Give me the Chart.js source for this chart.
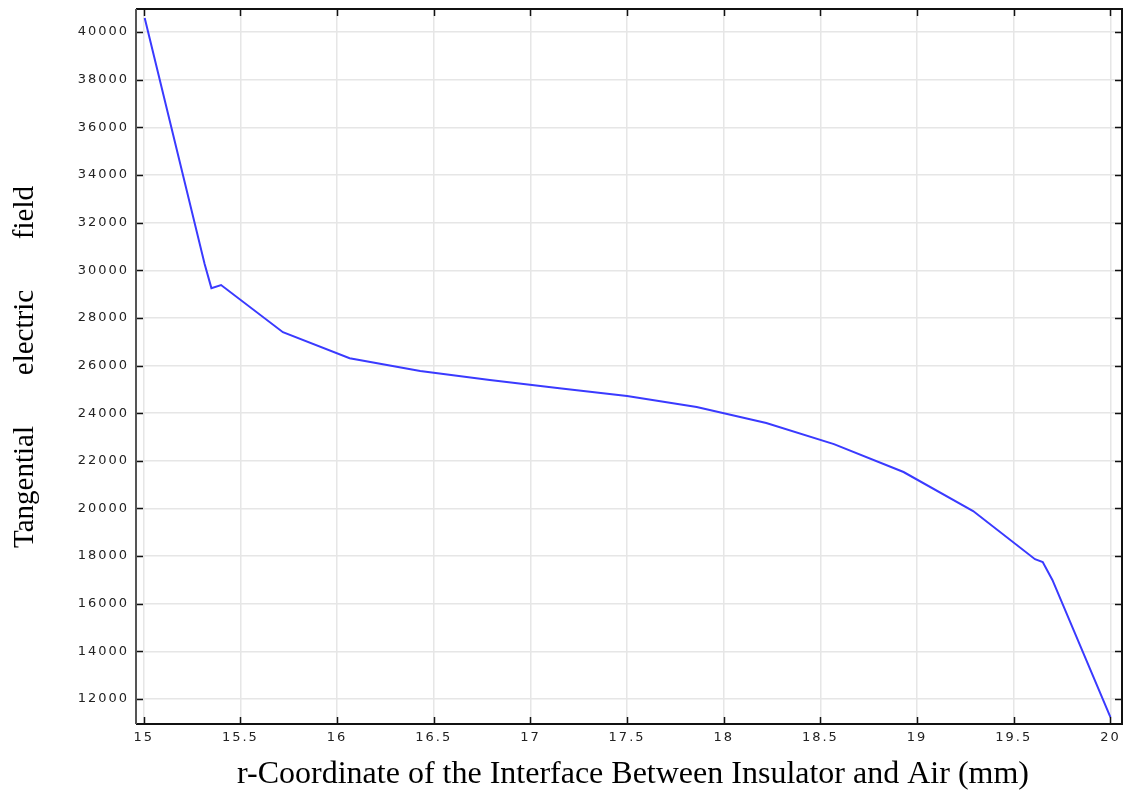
<!DOCTYPE html>
<html>
<head>
<meta charset="utf-8">
<script src="https://cdn.jsdelivr.net/npm/chart.js@4/dist/chart.umd.min.js"></script>
<style>
  html, body { margin: 0; padding: 0; background: #fff; }
  #wrap { width: 1129px; height: 790px; }
</style>
</head>
<body>
<div id="wrap"><canvas id="fieldChart" width="1129" height="790"></canvas></div>
<script>
// r-coordinate (mm) and tangential field values
const rCoord = [15.005, 15.315, 15.35, 15.40, 15.72, 16.065, 16.43, 16.79, 17.15, 17.50,
                17.86, 18.22, 18.57, 18.93, 19.29, 19.61, 19.65, 19.70, 20.0];
const eField = [40590, 30260, 29250, 29380, 27400, 26310, 25770, 25390, 25050, 24720,
                24260, 23590, 22700, 21530, 19890, 17870, 17750, 17000, 11240];

const xTicks = [15, 15.5, 16, 16.5, 17, 17.5, 18, 18.5, 19, 19.5, 20];
const yTicks = [12000, 14000, 16000, 18000, 20000, 22000, 24000, 26000,
                28000, 30000, 32000, 34000, 36000, 38000, 40000];

const xTitle = 'r-Coordinate of the Interface Between Insulator and Air (mm)';
const yTitle = 'Tangential       electric       field';

document.addEventListener('DOMContentLoaded', function () {

    // inward tick marks, frame and axis titles
    const framePlugin = {
        id: 'frame',
        beforeDraw(chart) {
            chart.ctx.letterSpacing = '2px';
        },
        afterDraw(chart) {
            const ctx = chart.ctx;
            const area = chart.chartArea;
            const xs = chart.scales.x;
            const ys = chart.scales.y;
            ctx.save();
            ctx.letterSpacing = '0px';

            ctx.strokeStyle = '#111';
            ctx.lineWidth = 1.5;
            xs.ticks.forEach(t => {
                const px = Math.round(xs.getPixelForValue(t.value)) + 0.5;
                ctx.beginPath();
                ctx.moveTo(px, area.top); ctx.lineTo(px, area.top + 7);
                ctx.moveTo(px, area.bottom); ctx.lineTo(px, area.bottom - 7);
                ctx.stroke();
            });
            ys.ticks.forEach(t => {
                const py = Math.round(ys.getPixelForValue(t.value)) + 0.5;
                ctx.beginPath();
                ctx.moveTo(area.left, py); ctx.lineTo(area.left + 7, py);
                ctx.moveTo(area.right, py); ctx.lineTo(area.right - 7, py);
                ctx.stroke();
            });

            ctx.lineWidth = 2;
            ctx.strokeStyle = '#111';
            ctx.beginPath();
            ctx.moveTo(area.left, area.top); ctx.lineTo(area.right, area.top);
            ctx.lineTo(area.right, area.bottom); ctx.lineTo(area.left, area.bottom);
            ctx.stroke();
            ctx.strokeStyle = '#555';
            ctx.beginPath();
            ctx.moveTo(area.left, area.top); ctx.lineTo(area.left, area.bottom);
            ctx.stroke();

            ctx.fillStyle = '#000';
            ctx.textAlign = 'center';
            ctx.textBaseline = 'alphabetic';
            ctx.font = '32px "Liberation Serif", "Times New Roman", serif';
            ctx.fillText(xTitle, 633, 783);

            ctx.font = '29px "Liberation Serif", "Times New Roman", serif';
            ctx.translate(33, 367);
            ctx.rotate(-Math.PI / 2);
            ctx.fillText(yTitle, 0, 0);
            ctx.restore();
        }
    };

    const tickFont = { family: '"DejaVu Sans", sans-serif', size: 13 };

    const ctx = document.getElementById('fieldChart').getContext('2d');
    new Chart(ctx, {
        type: 'line',
        data: {
            datasets: [{
                data: rCoord.map((r, i) => ({ x: r, y: eField[i] })),
                borderColor: '#3a3aff',
                borderWidth: 2,
                pointRadius: 0,
                tension: 0,
                fill: false
            }]
        },
        options: {
            responsive: false,
            animation: false,
            layout: { padding: { top: 9, right: 7, left: 0, bottom: 0 } },
            plugins: {
                legend: { display: false },
                tooltip: { enabled: false }
            },
            scales: {
                x: {
                    type: 'linear',
                    min: 14.96,
                    max: 20.06,
                    afterBuildTicks: s => { s.ticks = xTicks.map(v => ({ value: v })); },
                    afterFit: s => { s.height = 66; s.paddingLeft = 0; s.paddingRight = 0; },
                    border: { display: false },
                    grid: { color: '#e6e6e6', lineWidth: 1.5, drawTicks: false },
                    ticks: {
                        padding: 6,
                        color: '#222',
                        maxRotation: 0,
                        autoSkip: false,
                        font: tickFont,
                        callback: v => String(v)
                    }
                },
                y: {
                    min: 10950,
                    max: 40970,
                    afterBuildTicks: s => { s.ticks = yTicks.map(v => ({ value: v })); },
                    afterFit: s => { s.width = 136; s.paddingTop = 0; s.paddingBottom = 0; },
                    border: { display: false },
                    grid: { color: '#e6e6e6', lineWidth: 1.5, drawTicks: false },
                    ticks: {
                        padding: 7,
                        color: '#222',
                        autoSkip: false,
                        font: tickFont,
                        callback: v => String(v)
                    }
                }
            }
        },
        plugins: [framePlugin]
    });
});
</script>
</body>
</html>
